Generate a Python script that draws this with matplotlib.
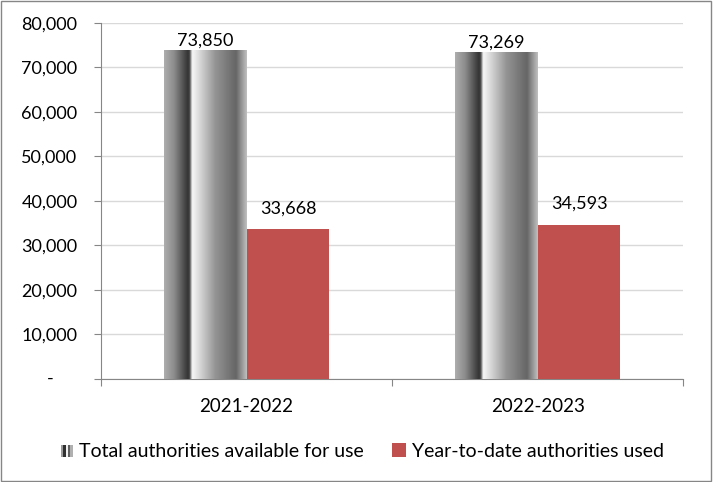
import matplotlib.pyplot as plt
import numpy as np
from matplotlib.patches import Rectangle
from matplotlib.legend_handler import HandlerBase
from matplotlib.ticker import FuncFormatter

plt.rcParams['font.family'] = ['Lato', 'DejaVu Sans']

years = ["2021-2022", "2022-2023"]
total_avail = [73850, 73269]
ytd_used = [33668, 34593]
series_names = ["Total authorities available for use", "Year-to-date authorities used"]

RED = "#C0504D"
BAR_W = 0.285

# cylinder-like shading of the grey bars (left -> right)
shade_pos = [0, 0.12, 0.29, 0.31, 0.34, 0.42, 0.62, 0.87, 1.0]
shade_lvl = [0.68, 0.55, 0.20, 0.30, 0.97, 0.86, 0.58, 0.40, 0.75]
grad = np.interp(np.linspace(0, 1, 200), shade_pos, shade_lvl)[None, :]


class StripeHandler(HandlerBase):
    def create_artists(self, legend, orig_handle, xd, yd, w, h, fontsize, trans):
        arts = []
        cols = ["#9a9a9a", "#303030", "#f0f0f0", "#606060", "#b0b0b0"]
        sw = h * 0.85 / len(cols)
        x0 = xd + w - h * 0.85
        for k, c in enumerate(cols):
            r = Rectangle((x0 + k * sw, yd), sw, h * 0.85, facecolor=c,
                          edgecolor="none", transform=trans)
            arts.append(r)
        return arts


fig = plt.figure(figsize=(7.13, 4.82), dpi=100)
ax = fig.add_axes([0.1417, 0.2137, 0.958 - 0.1417, 0.9523 - 0.2137])

x = np.arange(len(years))
gray_bars = ax.bar(x - BAR_W / 2, total_avail, BAR_W, facecolor="none",
                   edgecolor="none", label=series_names[0], zorder=3)
red_bars = ax.bar(x + BAR_W / 2, ytd_used, BAR_W, color=RED,
                  label=series_names[1], zorder=3)

for b in gray_bars:
    ax.imshow(grad, cmap="gray", vmin=0, vmax=1, aspect="auto",
              extent=[b.get_x(), b.get_x() + b.get_width(), 0, b.get_height()],
              interpolation="bilinear", zorder=3)

# labels on the tall bars sit closer (squeezed by the plot top)
for bars, vals, off in [(gray_bars, total_avail, 3.5), (red_bars, ytd_used, 11.5)]:
    for b, v in zip(bars, vals):
        ax.annotate(f"{v:,}", (b.get_x() + b.get_width() / 2, v),
                    xytext=(0, off), textcoords="offset points",
                    ha="center", va="baseline", fontsize=13, color="black")

ax.set_xlim(-0.5, len(years) - 0.5)
ax.set_ylim(0, 80000)
ax.set_yticks(np.arange(0, 80001, 10000))
ax.yaxis.set_major_formatter(FuncFormatter(lambda v, p: "" if v == 0 else f"{int(v):,}"))
ax.text(-0.082, 0, "-", transform=ax.get_yaxis_transform(), ha="right",
        va="center", fontsize=13)
ax.grid(axis="y", color="#D9D9D9", linewidth=1, zorder=0)
ax.set_axisbelow(True)

ax.set_xticks(np.arange(-0.5, len(years), 1.0))
ax.set_xticklabels([])
ax.set_xticks(x, minor=True)
ax.set_xticklabels(years, minor=True, fontsize=13.5)
ax.tick_params(axis="x", which="minor", length=0, pad=14)
ax.tick_params(axis="x", which="major", length=5, color="#868686", direction="out")
ax.tick_params(axis="y", length=5, color="#868686", labelsize=13, pad=12)

for s in ["top", "right"]:
    ax.spines[s].set_visible(False)
for s in ["left", "bottom"]:
    ax.spines[s].set_color("#868686")

leg = fig.legend(handles=[gray_bars, red_bars], labels=series_names,
                 loc="center", bbox_to_anchor=(0.507, 0.064), ncol=2, frameon=False,
                 fontsize=14, handlelength=0.7, handleheight=0.7, handletextpad=0.3,
                 columnspacing=1.5, handler_map={gray_bars: StripeHandler()})

fig.patches.append(Rectangle((0.002, 0.003), 0.995, 0.994, transform=fig.transFigure,
                             fill=False, edgecolor="#868686", linewidth=1))

fig.savefig("out.png", dpi=100)
